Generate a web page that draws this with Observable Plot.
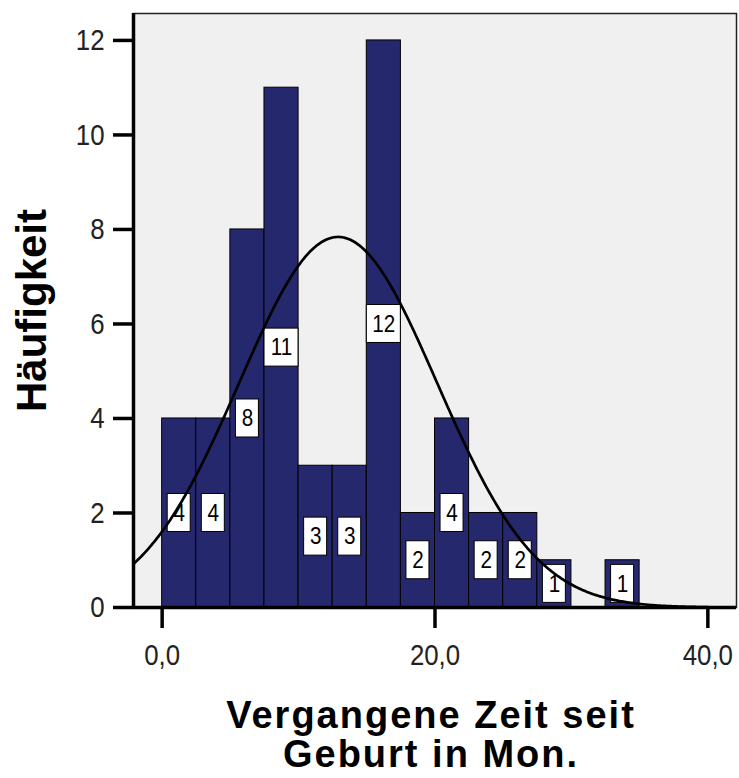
<!DOCTYPE html>
<html>
<head>
<meta charset="utf-8">
<script src="https://cdn.jsdelivr.net/npm/d3@7"></script>
<script src="https://cdn.jsdelivr.net/npm/@observablehq/plot@0.6"></script>
<style>
  body { margin: 0; background: #fff; }
  #chart svg { display: block; overflow: visible; }
  svg g[aria-label^="y-axis"] line, svg g[aria-label^="y-axis"] path,
  svg g[aria-label^="x-axis"] line, svg g[aria-label^="x-axis"] path {
    stroke: #000; stroke-width: 3.5px; stroke-opacity: 1;
  }
  svg g[aria-label^="y-axis"] text, svg g[aria-label^="x-axis"] text {
    font-size: 30px;
    font-family: "Liberation Sans", Arial, sans-serif;
    fill: #222;
  }
</style>
</head>
<body>
<div id="chart"></div>
<script>
// ---- data ----
const binStarts = [0, 2.5, 5, 7.5, 10, 12.5, 15, 17.5, 20, 22.5, 25, 27.5, 30, 32.5];
const counts    = [4, 4, 8, 11, 3, 3, 12, 2, 4, 2, 2, 1, 0, 1];
const binWidth = 2.5;
const xTickValues = [0, 20, 40];
const yTickValues = [0, 2, 4, 6, 8, 10, 12];
const curveMean = 12.9;
const curveSD = 7.25;
const curveEnd = 40;
const xDomain = [-2.1, 42.1];
const yDomain = [0, 12.57];
const yTitle = "Häufigkeit";
const xTitle = "Vergangene Zeit seit\nGeburt in Mon.";

// ---- derived tables ----
const bins = binStarts
  .map((s, i) => ({x1: s, x2: s + binWidth, mid: s + binWidth / 2, count: counts[i]}))
  .filter(d => d.count > 0);
const total = d3.sum(counts);
const curve = d3.range(0, Math.round((curveEnd - xDomain[0]) / 0.1) + 1)
  .map(k => xDomain[0] + k * 0.1)
  .map(x => ({
    x,
    y: total * binWidth / (curveSD * Math.sqrt(2 * Math.PI)) * Math.exp(-0.5 * ((x - curveMean) / curveSD) ** 2)
  }));

const navy = "#26286e";
const fmt = d => d.toFixed(1).replace(".", ",");

const chart = Plot.plot({
  width: 739,
  height: 778,
  marginLeft: 133,
  marginRight: 3,
  marginTop: 13,
  marginBottom: 171,
  style: {background: "#fff", fontFamily: "'Liberation Sans', Arial, sans-serif", color: "#000"},
  x: {domain: xDomain, ticks: xTickValues, tickFormat: fmt, tickSize: 21, tickPadding: 15, label: null},
  y: {domain: yDomain, ticks: yTickValues, tickSize: 20, tickPadding: 9, label: null},
  marks: [
    Plot.frame({fill: "#f0f0f0"}),
    Plot.rect(bins, {x1: "x1", x2: "x2", y1: () => 0, y2: "count", fill: navy, stroke: "#000", strokeWidth: 1}),
    Plot.rect(bins.filter(d => d.count < 10), {
      x1: "mid", x2: "mid", y1: d => d.count / 2, y2: d => d.count / 2,
      insetLeft: -11.5, insetRight: -11.5, insetTop: -19, insetBottom: -19,
      fill: "#fff", stroke: "#000", strokeWidth: 1
    }),
    Plot.rect(bins.filter(d => d.count >= 10), {
      x1: "mid", x2: "mid", y1: d => d.count / 2, y2: d => d.count / 2,
      insetLeft: -17, insetRight: -17, insetTop: -19, insetBottom: -19,
      fill: "#fff", stroke: "#000", strokeWidth: 1
    }),
    Plot.text(bins, {
      x: "mid", y: d => d.count / 2, text: d => String(d.count),
      fontSize: 24, fill: "#000", fontFamily: "'Liberation Sans', Arial, sans-serif"
    }),
    Plot.line(curve, {x: "x", y: "y", stroke: "#000", strokeWidth: 2.7}),
    Plot.frame({stroke: "#222", strokeWidth: 1.5}),
    Plot.ruleX([xDomain[0]], {stroke: "#000", strokeWidth: 3.5}),
    Plot.ruleY([0], {stroke: "#000", strokeWidth: 3.5}),
    Plot.text([yTitle], {
      frameAnchor: "left", text: d => d, rotate: -90, dx: -101, textAnchor: "middle",
      fontSize: 42, fontWeight: "bold", fill: "#000"
    }),
    Plot.text([xTitle], {
      frameAnchor: "bottom", text: d => d, lineAnchor: "top", dy: 93, dx: -4,
      lineHeight: 1.02, fontSize: 38, fontWeight: "bold", fill: "#000"
    })
  ]
});
document.getElementById("chart").appendChild(chart);

// Post-styling: narrow, tall digits (like the reference's bitmap font) and spaced x title
const svg = d3.select(chart);
svg.selectAll("text").each(function () {
  const t = this.textContent;
  if (/^[0-9]+(,[0-9])?$/.test(t) && this.childElementCount === 0) {
    const len = this.getComputedTextLength();
    if (len > 0) {
      this.setAttribute("textLength", (len * 0.86).toFixed(2));
      this.setAttribute("lengthAdjust", "spacingAndGlyphs");
    }
  }
  if (t.startsWith("Vergangene")) {
    this.style.letterSpacing = "2px";
  }
});
</script>
</body>
</html>
